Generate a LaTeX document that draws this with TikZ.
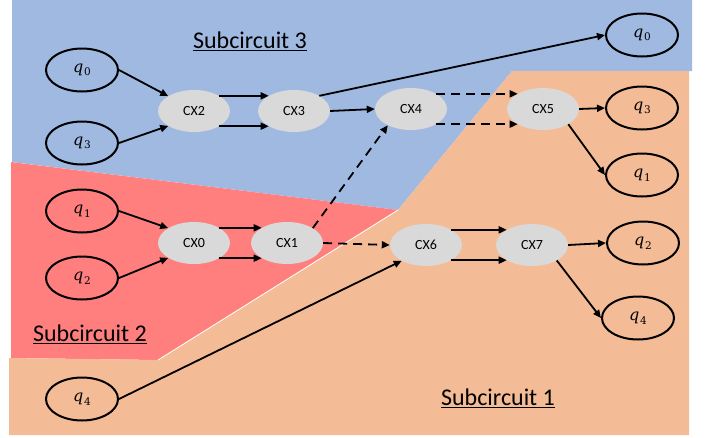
\documentclass[tikz,border=0pt]{standalone}
\usepackage{fontspec}
\setsansfont{Carlito}
\newfontfamily\qfont{DejaVu Serif}
\usetikzlibrary{shapes.geometric,arrows.meta}
\definecolor{bluebg}{RGB}{160,185,225}
\definecolor{redbg}{RGB}{255,127,127}
\definecolor{orbg}{RGB}{244,188,150}
\definecolor{gatefill}{RGB}{217,217,217}
\newcommand\qlab[1]{{\qfont\itshape q}\kern0.8pt\raisebox{-3.5pt}{\qfont\fontsize{10.5}{12}\selectfont #1}}
\tikzset{
  qubit/.style={ellipse, draw, line width=2pt, minimum width=72pt, minimum height=43pt, inner sep=0pt, font=\qfont\fontsize{16}{18}\selectfont},
  gate/.style={ellipse, fill=gatefill, minimum width=72pt, minimum height=42pt, inner sep=0pt, font=\sffamily\fontsize{14}{16}\selectfont},
  wire/.style={line width=1.8pt, -{Triangle[length=8pt,width=7pt]}},
  dwire/.style={wire, dash pattern=on 9pt off 6pt},
  subtitle/.style={font=\sffamily\fontsize{24}{28}\selectfont, inner sep=0pt},
}
\begin{document}
\begin{tikzpicture}[x=1pt,y=-1pt]
\useasboundingbox (0,0) rectangle (713,437);
\fill[white] (0,0) rectangle (713,437);
% regions
\fill[bluebg] (12,0) -- (692,0) -- (692,71) -- (512,71) -- (398,210) -- (12,162) -- cycle;
\fill[redbg] (11,162) -- (398,210) -- (158,360) -- (11,358) -- cycle;
\fill[orbg] (512,71) -- (689,71) -- (689,435) -- (9,435) -- (9,358) -- (158,360) -- (398,210) -- cycle;
\draw[white, line width=0.8pt] (158,360) -- (398,210);
% labels
\node[subtitle] (s3) at (250,41) {\underline{Subcircuit 3}};
\node[subtitle] (s2) at (90,334) {\underline{Subcircuit 2}};
\node[subtitle] (s1) at (498,398) {\underline{Subcircuit 1}};
% input qubits
\node[qubit] (q0L) at (82,70) {\qlab{0}};
\node[qubit] (q3L) at (82,143) {\qlab{3}};
\node[qubit] (q1L) at (82,211) {\qlab{1}};
\node[qubit] (q2L) at (82,278) {\qlab{2}};
\node[qubit] (q4L) at (82,399) {\qlab{4}};
% gates
\node[gate] (CX2) at (194,111) {CX2};
\node[gate] (CX3) at (294,111) {CX3};
\node[gate] (CX0) at (194,243) {CX0};
\node[gate] (CX1) at (287,243) {CX1};
\node[gate] (CX4) at (411,109) {CX4};
\node[gate] (CX5) at (543,109) {CX5};
\node[gate] (CX6) at (426,245) {CX6};
\node[gate] (CX7) at (532,245) {CX7};
% output qubits
\node[qubit] (q0R) at (642,35) {\qlab{0}};
\node[qubit] (q3R) at (642,108) {\qlab{3}};
\node[qubit] (q1R) at (642,175) {\qlab{1}};
\node[qubit] (q2R) at (643,243) {\qlab{2}};
\node[qubit] (q4R) at (638,318) {\qlab{4}};
% wires
\draw[wire] (q0L.east) -- (CX2.150);
\draw[wire] (q3L.east) -- (CX2.-150);
\draw[wire] (CX2.31) -- (CX3.149);
\draw[wire] (CX2.-31) -- (CX3.-149);
\draw[wire] (CX3.31) -- (q0R.west);
\draw[wire] (CX3.east) -- (CX4.west);
\draw[wire] (q1L.east) -- (CX0.150);
\draw[wire] (q2L.east) -- (CX0.-150);
\draw[wire] (CX0.31) -- (CX1.149);
\draw[wire] (CX0.-31) -- (CX1.-149);
\draw[dwire] (CX1.30) -- (CX4.-145);
\draw[dwire] (CX1.east) -- (CX6.west);
\draw[dwire] (CX4.31) -- (CX5.149);
\draw[dwire] (CX4.-31) -- (CX5.-149);
\draw[wire] (CX5.east) -- (q3R.west);
\draw[wire] (CX5.-31) -- (q1R.west);
\draw[wire] (q4L.east) -- (CX6.-147);
\draw[wire] (CX6.31) -- (CX7.149);
\draw[wire] (CX6.-31) -- (CX7.-149);
\draw[wire] (CX7.east) -- (q2R.west);
\draw[wire] (CX7.-32) -- (q4R.west);
\end{tikzpicture}
\end{document}
